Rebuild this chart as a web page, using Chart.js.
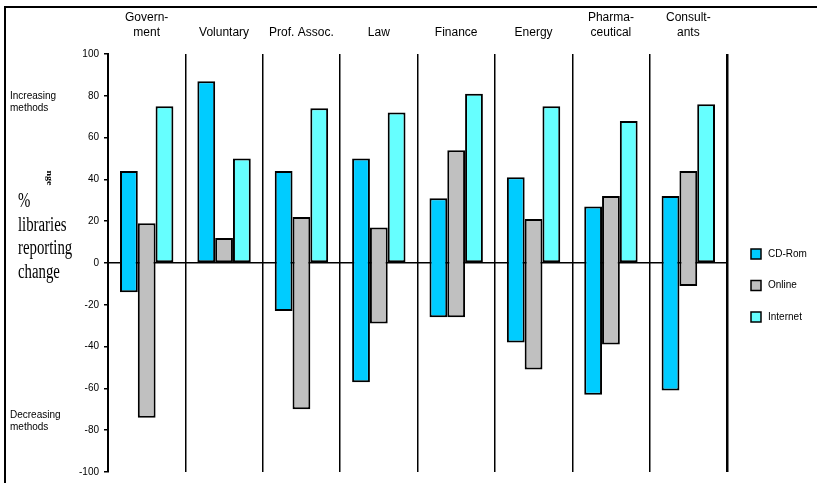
<!DOCTYPE html>
<html lang="en">
<head>
  <meta charset="UTF-8" />
  <title>Library methods change by sector</title>
  <script src="https://cdn.jsdelivr.net/npm/chart.js"></script>
  <style>
    body { margin: 0; background: #fff; }
    #wrap { width: 817px; height: 483px; position: relative; }
  </style>
</head>
<body>
  <div id="wrap"><canvas id="methodsChart"></canvas></div>

  <script>
    // sectors along the top
    const categories = [['Govern-', 'ment'], 'Voluntary', 'Prof. Assoc.', 'Law', 'Finance', 'Energy', ['Pharma-', 'ceutical'], ['Consult-', 'ants']];

    // % of libraries increasing / decreasing use of each method
    const cdRomUp = [44, 87, 44, 50, 31, 41, 27, 32];
    const cdRomDown = [-14, 0, -23, -57, -26, -38, -63, -61];
    const onlineUp = [19, 12, 22, 17, 54, 21, 32, 44];
    const onlineDown = [-74, 0, -70, -29, -26, -51, -39, -11];
    const internetUp = [75, 50, 74, 72, 81, 75, 68, 76];
    const internetDown = [0, 0, 0, 0, 0, 0, 0, 0];

    const seriesNames = ['CD-Rom', 'Online', 'Internet'];
    const yTicks = { min: -100, max: 100, step: 20 };

    const sansFont = 'Liberation Sans, Arial, sans-serif';
    const serifFont = 'Liberation Serif, Times New Roman, serif';

    function span(down, up) {
      return down.map((d, i) => [d, up[i]]);
    }

    // frame, side notes, axis title and legend
    const decorations = {
      id: 'decorations',
      beforeDraw(chart) {
        const c = chart.ctx;
        c.save();
        c.fillStyle = '#fff';
        c.fillRect(0, 0, chart.width, chart.height);
        c.restore();
      },
      afterDraw(chart) {
        const c = chart.ctx;
        c.save();
        c.strokeStyle = '#000';
        c.lineWidth = 2;
        c.beginPath();
        c.moveTo(5, chart.height);
        c.lineTo(5, 7);
        c.lineTo(chart.width, 7);
        c.stroke();

        c.fillStyle = '#000';
        c.font = '10px ' + sansFont;
        c.textBaseline = 'middle';
        c.textAlign = 'left';
        c.fillText('Increasing', 10, 96);
        c.fillText('methods', 10, 108);
        c.fillText('Decreasing', 10, 415);
        c.fillText('methods', 10, 427);

        // axis title, narrow serif
        c.font = '20px ' + serifFont;
        c.textBaseline = 'alphabetic';
        const lines = ['%', 'libraries', 'reporting', 'change'];
        lines.forEach((t, i) => {
          c.save();
          c.translate(18, 207 + i * 23.5);
          c.scale(0.74, 1);
          c.fillText(t, 0, 0);
          c.restore();
        });
        c.save();
        c.translate(49, 178);
        c.rotate(Math.PI / 2);
        c.scale(1, 0.8);
        c.font = 'bold 10px ' + serifFont;
        c.textAlign = 'center';
        c.textBaseline = 'middle';
        c.fillText('nge', 0, 0);
        c.restore();

        // legend
        c.font = '10px ' + sansFont;
        c.textBaseline = 'middle';
        chart.data.datasets.forEach((ds, i) => {
          const y = 254 + i * 31.5;
          c.fillStyle = ds.backgroundColor;
          c.fillRect(751, y - 5, 10, 10);
          c.lineWidth = 1.5;
          c.strokeStyle = '#000';
          c.strokeRect(751, y - 5, 10, 10);
          c.fillStyle = '#000';
          c.fillText(ds.label, 768, y);
        });
        c.restore();
      }
    };

    const barStyle = {
      borderColor: '#000',
      borderWidth: 2,
      borderSkipped: false,
      categoryPercentage: 0.69,
      barPercentage: 1
    };

    const ctx = document.getElementById('methodsChart').getContext('2d');
    new Chart(ctx, {
      type: 'bar',
      data: {
        labels: categories,
        datasets: [
          { label: seriesNames[0], data: span(cdRomDown, cdRomUp), backgroundColor: '#00CCFF', ...barStyle },
          { label: seriesNames[1], data: span(onlineDown, onlineUp), backgroundColor: '#C0C0C0', ...barStyle },
          { label: seriesNames[2], data: span(internetDown, internetUp), backgroundColor: '#66FFFF', ...barStyle }
        ]
      },
      options: {
        responsive: true,
        maintainAspectRatio: false,
        animation: false,
        layout: { padding: { left: 0, right: 90, top: 0, bottom: 9 } },
        plugins: {
          legend: { display: false },
          tooltip: { enabled: false }
        },
        scales: {
          x: {
            position: 'top',
            afterFit(scale) { scale.height = 54; },
            border: { display: false },
            grid: {
              color: '#000',
              lineWidth: c => (c.tick ? 1.5 : 2.5),
              drawTicks: false,
              offset: true
            },
            ticks: {
              color: '#000',
              padding: 14,
              maxRotation: 0,
              autoSkip: false,
              font: { family: sansFont, size: 12, lineHeight: 1.25 }
            }
          },
          y: {
            z: 1,
            min: yTicks.min,
            max: yTicks.max,
            afterFit(scale) { scale.width = 108; },
            border: { display: true, color: '#000', width: 2 },
            grid: {
              color: c => (c.tick && c.tick.value === 0 ? '#000' : 'rgba(0,0,0,0)'),
              lineWidth: 1.5,
              tickColor: '#000',
              tickLength: 4,
              tickWidth: 1.5
            },
            ticks: {
              stepSize: yTicks.step,
              color: '#000',
              padding: 5,
              font: { family: sansFont, size: 10 }
            }
          }
        }
      },
      plugins: [decorations]
    });
  </script>
</body>
</html>
